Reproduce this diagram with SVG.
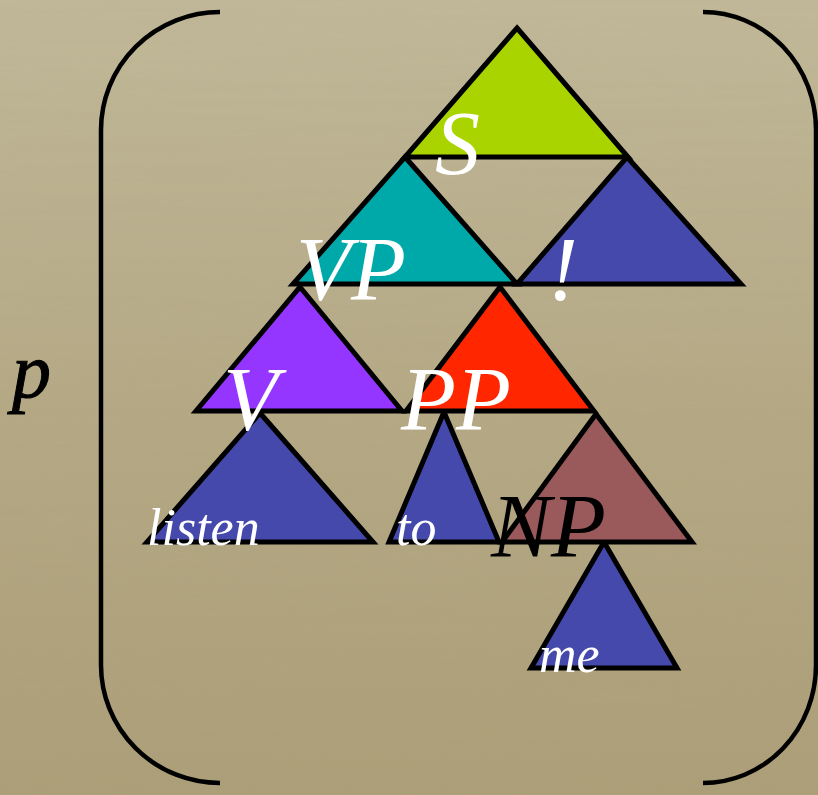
<svg xmlns="http://www.w3.org/2000/svg" width="818" height="795" viewBox="0 0 818 795">
  <defs>
    <linearGradient id="bg" x1="0" y1="0" x2="0" y2="1">
      <stop offset="0" stop-color="#C1B999"/>
      <stop offset="0.5" stop-color="#B6AA86"/>
      <stop offset="1" stop-color="#AC9F78"/>
    </linearGradient>
    <filter id="grain" x="0" y="0" width="100%" height="100%">
      <feTurbulence type="fractalNoise" baseFrequency="0.004 0.12" numOctaves="2" seed="3"/>
      <feColorMatrix type="matrix" values="0 0 0 0 0.35  0 0 0 0 0.3  0 0 0 0 0.2  0 0 0 0.35 0"/>
    </filter>
    <style>
      .tri { stroke: #000; stroke-width: 5; stroke-linejoin: miter; }
      .lbl { font-family: "Liberation Serif", "Times New Roman", serif; font-style: italic; fill: #fff; }
      .big { font-size: 90px; }
      .small { font-size: 52px; }
      .brk { fill: none; stroke: #000; stroke-width: 4.5; }
    </style>
  </defs>

  <rect width="818" height="795" fill="url(#bg)"/>
  <rect width="818" height="795" filter="url(#grain)" opacity="0.25"/>

  <text x="12" y="397" font-family="Liberation Serif, serif" font-style="italic" font-size="78" fill="#000" stroke="#000" stroke-width="1">p</text>

  <g id="brackets">
    <path class="brk" d="M 220 12 A 119 118 0 0 0 101 130 L 101 665 A 119 118 0 0 0 220 783"/>
    <path class="brk" d="M 703 12 A 113 118 0 0 1 816 130 L 816 665 A 113 118 0 0 1 703 783"/>
  </g>

  <g id="connectors"></g>

  <g id="node-listen">
    <polygon class="tri" fill="#4449AB" points="260,413 373,542 147,542"/>
    <text class="lbl small" x="147" y="545">listen</text>
  </g>
  <g id="node-to">
    <polygon class="tri" fill="#4449AB" points="444,412 499,542 389,542"/>
    <text class="lbl small" x="396" y="545">to</text>
  </g>
  <g id="node-me">
    <polygon class="tri" fill="#4449AB" points="604,542 677,668 531,668"/>
    <text class="lbl small" x="539" y="672">me</text>
  </g>
  <g id="node-NP">
    <polygon class="tri" fill="#9A5A5C" points="596,414 692,542 502,542"/>
    <text class="lbl big" x="491" y="557" style="fill:#000">NP</text>
  </g>
  <g id="node-PP">
    <polygon class="tri" fill="#FF2600" points="500,287 594,411 406,411"/>
    <text class="lbl big" x="401" y="430">PP</text>
  </g>
  <g id="node-V">
    <polygon class="tri" fill="#9436FF" points="300,287 402,411 196,411"/>
    <text class="lbl big" x="223" y="430">V</text>
  </g>
  <g id="node-bang">
    <polygon class="tri" fill="#4449AB" points="627,157 741,284 517,284"/>
    <text class="lbl big" x="548" y="300">!</text>
  </g>
  <g id="node-VP">
    <polygon class="tri" fill="#00A9A9" points="405,157 517,284 293,284"/>
    <text class="lbl big" x="296" y="300">VP</text>
  </g>
  <g id="node-S">
    <polygon class="tri" fill="#AAD400" points="517,28 628,157 405,157"/>
    <text class="lbl big" x="435" y="174">S</text>
  </g>
</svg>
